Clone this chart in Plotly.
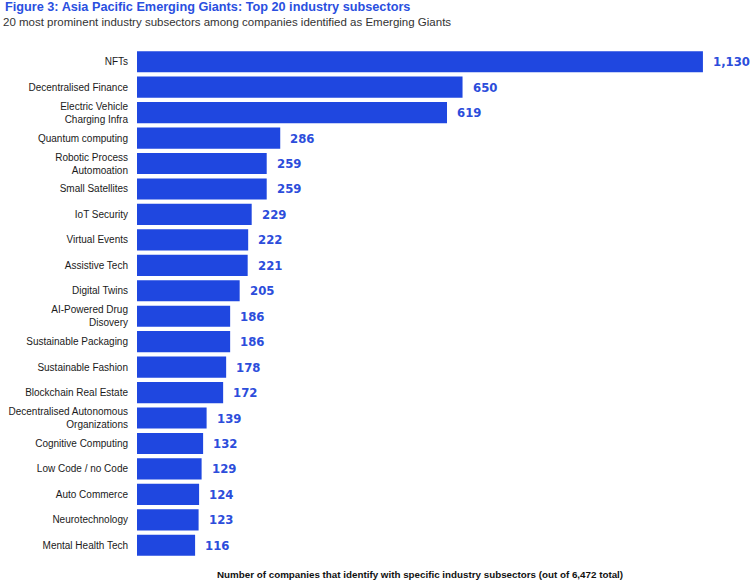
import plotly.graph_objects as go

# Subsectors, top to bottom as shown
subsectors = ["NFTs", "Decentralised Finance", "Electric Vehicle<br>Charging Infra", "Quantum computing",
              "Robotic Process<br>Automoation", "Small Satellites", "IoT Security", "Virtual Events",
              "Assistive Tech", "Digital Twins", "AI-Powered Drug<br>Disovery", "Sustainable Packaging",
              "Sustainable Fashion", "Blockchain Real Estate", "Decentralised Autonomous<br>Organizations",
              "Cognitive Computing", "Low Code / no Code", "Auto Commerce", "Neurotechnology",
              "Mental Health Tech"]
companies = [1130, 650, 619, 286, 259, 259, 229, 222, 221, 205, 186, 186, 178, 172, 139, 132, 129, 124, 123, 116]

BAR_BLUE = "#1f47e0"
LABEL_BLUE = "#2c4ddb"

fig = go.Figure()

fig.add_trace(go.Bar(
    x=companies,
    y=subsectors,
    orientation="h",
    marker=dict(color=BAR_BLUE, line=dict(width=0)),
    hoverinfo="skip",
))

# value labels just past the bar ends
for name, v in zip(subsectors, companies):
    fig.add_annotation(x=v, y=name, text=f"{v:,}", showarrow=False,
                       xanchor="left", yanchor="middle", xshift=8,
                       font=dict(family="DejaVu Sans Condensed, DejaVu Sans, sans-serif",
                                 size=13, color=LABEL_BLUE, weight="bold"))

fig.update_layout(
    width=750, height=586,
    margin=dict(l=137, r=5, t=49, b=28),
    paper_bgcolor="white", plot_bgcolor="white",
    showlegend=False,
    bargap=0.17,
    font=dict(family="Liberation Sans, Arial, sans-serif", size=10, color="#1a1a1a"),
    xaxis=dict(visible=False, range=[0, 1214]),
    yaxis=dict(autorange="reversed", showline=False, showgrid=False, ticks="", automargin=False,
               ticklabelstandoff=8, tickfont=dict(size=10, color="#1a1a1a")),
)

fig.add_annotation(text="<b>Figure 3: Asia Pacific Emerging Giants: Top 20 industry subsectors</b>",
                   xref="paper", yref="paper", x=-134 / 608, y=1 + 42 / 509, xanchor="left", yanchor="middle",
                   showarrow=False, font=dict(size=12.7, color="#2a4fe0"))
fig.add_annotation(text="20 most prominent industry subsectors among companies identified as Emerging Giants",
                   xref="paper", yref="paper", x=-136 / 608, y=1 + 27 / 509, xanchor="left", yanchor="middle",
                   showarrow=False, font=dict(size=11.5, color="#333333"))
fig.add_annotation(text="<b>Number of companies that identify with specific industry subsectors (out of 6,472 total)</b>",
                   xref="paper", yref="paper", x=(420 - 137) / 608, y=-16 / 509, xanchor="center", yanchor="middle",
                   showarrow=False, font=dict(size=9.8, color="#111111"))

# drop the page's default body margin so the figure sits at the window's corner
fig.write_html("out.html", config={"displayModeBar": False},
               post_script="document.body.style.margin='0px';")
